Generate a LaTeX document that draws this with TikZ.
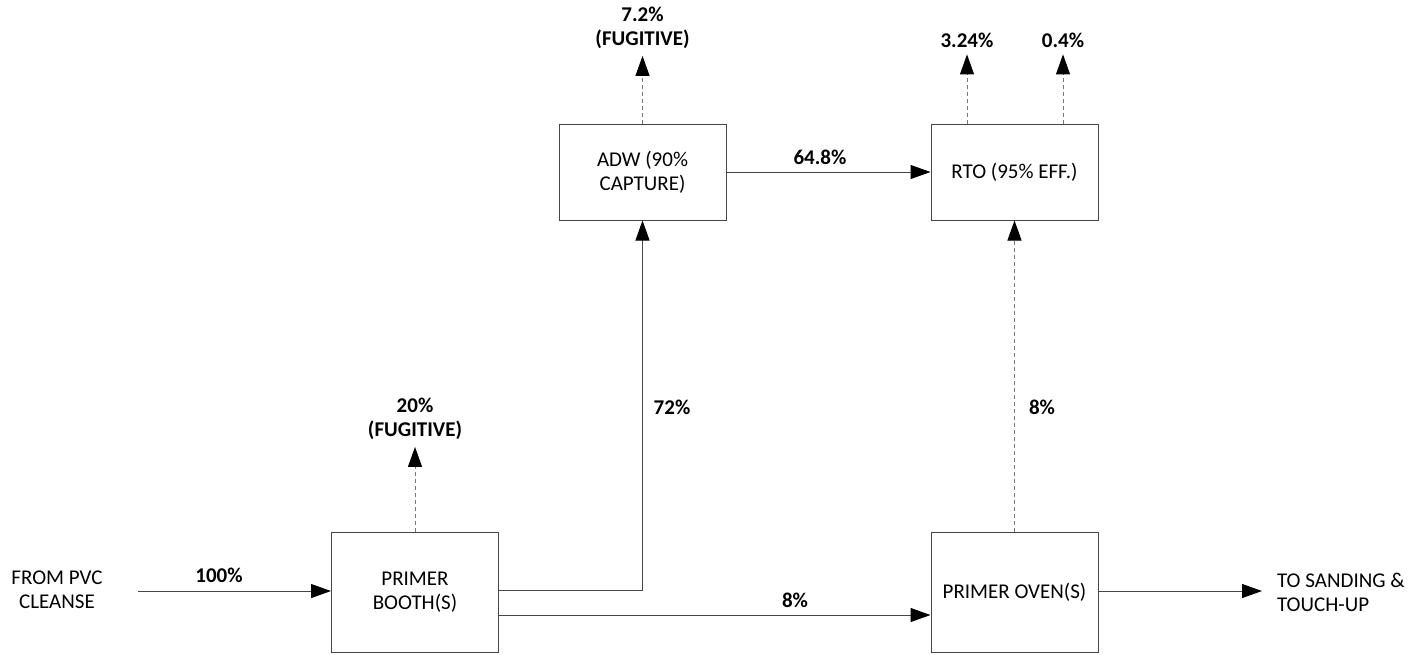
\documentclass[tikz,border=0pt]{standalone}
\usepackage{fontspec}
\setmainfont{Carlito}
\usetikzlibrary{positioning,arrows.meta}
\definecolor{frame}{RGB}{70,70,70}
\definecolor{vapour}{RGB}{120,120,120}

\begin{document}
\begin{tikzpicture}[
  x=0.5pt,y=-0.5pt,
  every node/.style={font=\fontsize{10.5}{12}\selectfont,align=center},
  box/.style={draw=frame,line width=0.5pt,minimum width=83.5pt,inner sep=2pt},
  flow/.style={-{Triangle[length=10pt,width=7pt,color=black]},line width=0.5pt,draw=frame},
  vent/.style={-{Triangle[length=10pt,width=7pt,color=black]},line width=0.5pt,draw=vapour,dash pattern=on 2pt off 1.5pt},
  pct/.style={font=\fontsize{10.5}{12}\selectfont\bfseries}
]
\useasboundingbox (0,0) rectangle (1416,654);
% process units
\node[box,minimum height=60pt] (booth) at (415,592) {PRIMER\\BOOTH(S)};
\node[box,minimum height=48pt] (adw) at (642.5,172) {ADW (90\%\\CAPTURE)};
\node[box,minimum height=48pt] (rto) at (1014.5,172) {RTO (95\% EFF.)};
\node[box,minimum height=60pt] (oven) at (1014.5,592) {PRIMER OVEN(S)};
% end labels
\node (src) at (57,590) {FROM PVC\\CLEANSE};
\node[anchor=west,align=left] (dst) at (1270,592) {TO SANDING \&\\TOUCH-UP};
\coordinate (in) at (138,591);
\coordinate (out) at (1262,591);
% emission labels
\node[pct] (fb) at (415,419) {20\%\\(FUGITIVE)};
\node[pct] (fa) at (642.5,28) {7.2\%\\(FUGITIVE)};
\node[pct] (r1) at (967,40) {3.24\%};
\node[pct] (r2) at (1063,40) {0.4\%};
% main flows
\draw[flow] (in) -- (booth.west |- in);
\draw[flow] ([yshift=1pt]booth.east) -| (adw.south);
\draw[flow] ([yshift=-11.5pt]booth.east) -- ([yshift=-11.5pt]oven.west);
\draw[flow] (adw.east) -- (rto.west);
\draw[flow] (oven.east |- out) -- (out);
% vented streams
\draw[vent] (booth.north) -- (fb.south);
\draw[vent] (adw.north) -- (fa.south);
\draw[vent] (r1 |- rto.north) -- (r1.south);
\draw[vent] (r2 |- rto.north) -- (r2.south);
\draw[vent] (oven.north) -- (rto.south);
% flow labels
\node[pct] at (219,575) {100\%};
\node[pct] at (672,407) {72\%};
\node[pct] at (795,600) {8\%};
\node[pct] at (820,157) {64.8\%};
\node[pct] at (1042,407) {8\%};
\end{tikzpicture}
\end{document}
